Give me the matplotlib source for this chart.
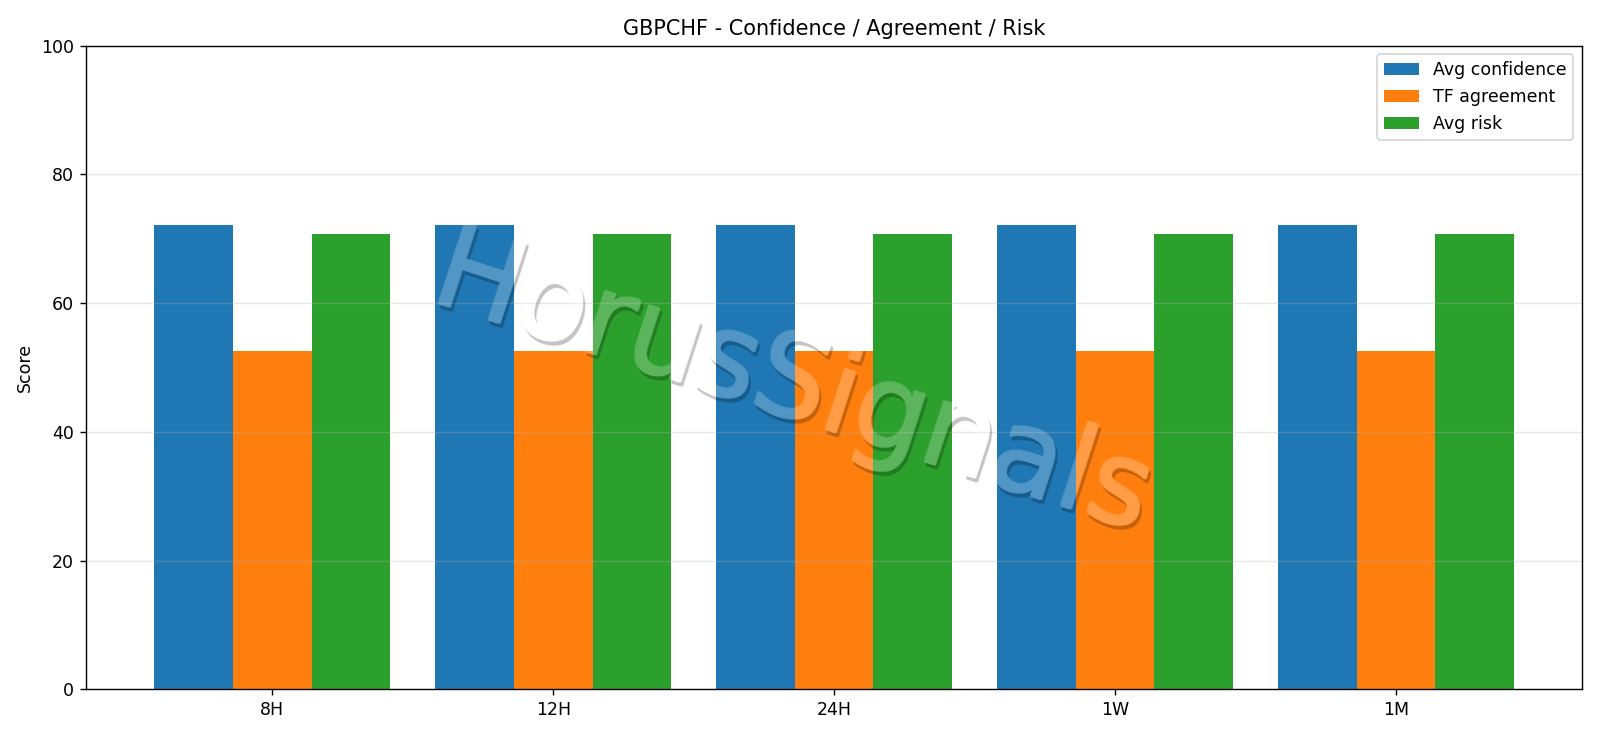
import numpy as np
import matplotlib
matplotlib.use("Agg")
import matplotlib.pyplot as plt
from matplotlib.transforms import offset_copy

# data
timeframes = ["8H", "12H", "24H", "1W", "1M"]
avg_confidence = [72.1, 72.1, 72.1, 72.1, 72.1]
tf_agreement = [52.6, 52.6, 52.6, 52.6, 52.6]
avg_risk = [70.7, 70.7, 70.7, 70.7, 70.7]

DPI = 125
W, H = 1600 / DPI, 738 / DPI

fig, ax = plt.subplots(figsize=(W, H), dpi=DPI)

x = np.arange(len(timeframes))
width = 0.28
ax.bar(x - width, avg_confidence, width, label="Avg confidence")
ax.bar(x, tf_agreement, width, label="TF agreement")
ax.bar(x + width, avg_risk, width, label="Avg risk")

ax.set_xticks(x, timeframes)
ax.set_ylim(0, 100)
ax.set_ylabel("Score")
ax.set_title("GBPCHF - Confidence / Agreement / Risk")
ax.grid(axis="y", alpha=0.3)
ax.legend(loc="upper right")
fig.subplots_adjust(left=0.054, right=0.9886, top=0.938, bottom=0.066)

# -----------------------------
# Watermark with drop shadow
# -----------------------------
wm_text = "HorusSignals"
wm_pos = (0.495, 0.474)
wm_kw = dict(fontsize=66, rotation=-18, ha="center", va="center",
             family="DejaVu Sans")
wm_alpha = 0.235
shadow_off = (2.5, -3.5)  # pixels


def text_mask(offset):
    # coverage of the watermark glyphs, rendered off screen
    f = plt.figure(figsize=(W, H), dpi=DPI, facecolor="black")
    tr = offset_copy(f.transFigure, f, x=offset[0], y=offset[1], units="dots")
    f.text(*wm_pos, wm_text, color="white", transform=tr, **wm_kw)
    f.canvas.draw()
    m = np.asarray(f.canvas.buffer_rgba())[:, :, 0] / 255.0
    plt.close(f)
    return m


def grow(m):
    # thicken the strokes by about one pixel on each side
    out = m.copy()
    for dy in (-1, 0, 1):
        for dx in (-1, 0, 1):
            out = np.maximum(out, np.roll(np.roll(m, dy, 0), dx, 1))
    return out


text_cover = text_mask((0, 0))
bold_cover = grow(text_cover)
shadow_cover = grow(text_mask(shadow_off))

ring = np.clip(bold_cover - text_cover, 0, 1)
shadow_only = shadow_cover * (1 - bold_cover)

shadow_layer = np.zeros(text_cover.shape + (4,))
shadow_layer[..., 3] = wm_alpha * shadow_only
fig.figimage(shadow_layer, 0, 0, origin="upper", zorder=5)

ring_layer = np.ones(text_cover.shape + (4,))
ring_layer[..., 3] = wm_alpha * ring
fig.figimage(ring_layer, 0, 0, origin="upper", zorder=5.5)

fig.text(*wm_pos, wm_text, color="white", alpha=wm_alpha, zorder=6, **wm_kw)

fig.savefig("out.png", dpi=DPI)
